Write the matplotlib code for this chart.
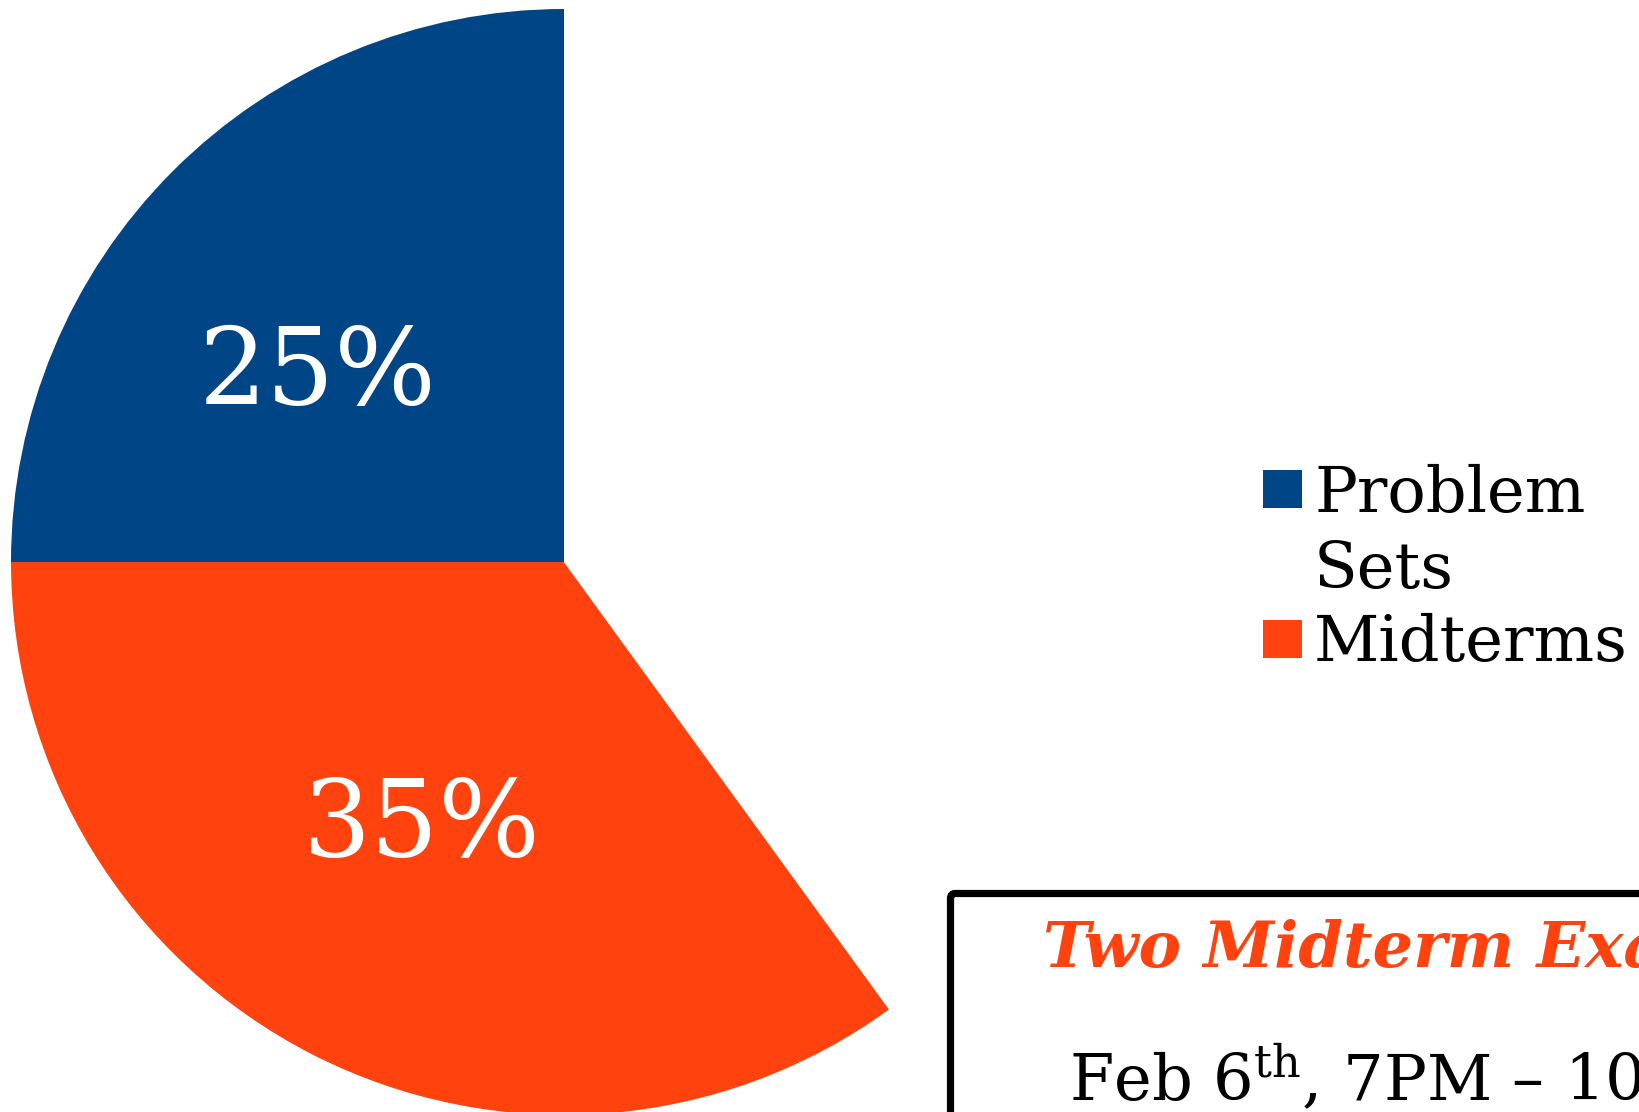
"""Grade breakdown pie, cropped view with legend and exam note."""

import numpy as np
import matplotlib.pyplot as plt
from matplotlib.patches import FancyBboxPatch, Rectangle
from matplotlib.legend_handler import HandlerPatch

# --- data ----------------------------------------------------------------------------------------

categories = ["Problem\nSets", "Midterms", "Final"]
shares = [25, 35, 40]
colors = ["#004586", "#ff420e", "#ffffff"]
legend_count = 2

note_title = "Two Midterm Exams"
note_line = "Feb 6$^{\\mathrm{th}}$, 7PM \u2013 10PM"


# --- helpers -------------------------------------------------------------------------------------


class SquareHandler(HandlerPatch):
    """Square legend key, lifted to sit beside the first line of a wrapped label."""

    def __init__(self, lift=0.0, **kwargs):
        super().__init__(**kwargs)
        self.lift = lift

    def create_artists(self, legend, orig_handle, xdescent, ydescent, width, height, fontsize,
                       trans):
        p = Rectangle((-xdescent, -ydescent + self.lift * fontsize), width, height)
        self.update_prop(p, orig_handle, legend)
        p.set_transform(trans)
        return [p]


# --- figure --------------------------------------------------------------------------------------

plt.rcParams["font.family"] = ["DejaVu Serif"]
plt.rcParams["mathtext.fontset"] = "dejavuserif"

W, H = 1640, 1112
fig = plt.figure(figsize=(W / 100, H / 100), dpi=100)
ax = fig.add_axes([0, 0, 1, 1])

center = (564, H - 562)
radius = 553
wedges, texts, autotexts = ax.pie(
    shares,
    colors=colors,
    startangle=90,
    counterclock=True,
    center=center,
    radius=radius,
    autopct=lambda p: f"{p:.0f}%" if p < 39 else "",
    textprops=dict(color="white", fontsize=77),
    wedgeprops=dict(linewidth=0),
    frame=True,
)
ax.set_xlim(0, W)
ax.set_ylim(0, H)
ax.set_aspect("auto")
ax.axis("off")

# label placement (fraction of radius, angle in degrees)
label_place = [(0.561, 142.7), (0.543, 241.8)]
for t, (frac, ang) in zip(autotexts, label_place):
    a = np.deg2rad(ang)
    t.set_position((center[0] + frac * radius * np.cos(a), center[1] + frac * radius * np.sin(a)))

leg = ax.legend(
    wedges[:legend_count],
    categories[:legend_count],
    loc="center left",
    bbox_to_anchor=(1263 / W, 1 - 569 / H),
    frameon=False,
    fontsize=46,
    borderpad=0,
    borderaxespad=0,
    handlelength=0.61,
    handleheight=0.54,
    handletextpad=0.19,
    labelspacing=0.19,
    handler_map={wedges[0]: SquareHandler(lift=0.70), wedges[1]: SquareHandler()},
)
for t in leg.get_texts():
    t.set_linespacing(1.32)

# --- exam note -----------------------------------------------------------------------------------

box = FancyBboxPatch(
    (950.5, -50),
    900,
    H - 893.5 + 50,
    boxstyle="round,pad=0,rounding_size=5",
    facecolor="white",
    edgecolor="black",
    linewidth=5.2,
    clip_on=False,
)
ax.add_patch(box)
ax.text(1043, H - 967, note_title, color="#ff420e", fontsize=46,
        fontweight="bold", fontstyle="italic", va="baseline")
ax.text(1069, H - 1100, note_line, color="black", fontsize=46, va="baseline")

fig.savefig("out.png", dpi=100)
